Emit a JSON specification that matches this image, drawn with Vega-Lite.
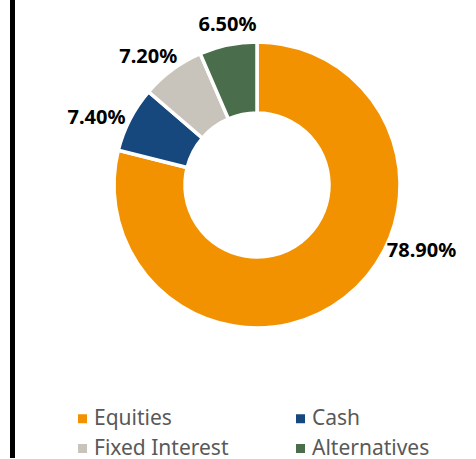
{
  "$schema": "https://vega.github.io/schema/vega-lite/v6.json",
  "width": 438,
  "height": 370,
  "padding": {"left": 38, "top": 0, "right": 0, "bottom": 89},
  "autosize": {"type": "none"},
  "background": "#ffffff",
  "config": {"view": {"stroke": null}, "font": "Noto Sans"},
  "data": {
    "values": [
      {"category": "Equities", "idx": 1, "value": 78.9, "label": "78.90%"},
      {"category": "Cash", "idx": 2, "value": 7.4, "label": "7.40%"},
      {"category": "Fixed Interest", "idx": 3, "value": 7.2, "label": "7.20%"},
      {"category": "Alternatives", "idx": 4, "value": 6.5, "label": "6.50%"}
    ]
  },
  "layer": [
    {
      "mark": {"type": "arc", "innerRadius": 72, "outerRadius": 143, "stroke": "#ffffff", "strokeWidth": 3.5},
      "encoding": {
        "theta": {"field": "value", "type": "quantitative", "stack": true},
        "order": {"field": "idx", "type": "quantitative"},
        "color": {
          "field": "category",
          "type": "nominal",
          "sort": null,
          "scale": {
            "domain": ["Equities", "Cash", "Fixed Interest", "Alternatives"],
            "range": ["#F39200", "#17487D", "#C8C3BB", "#4A6E4B"]
          },
          "legend": {
            "title": null,
            "orient": "none",
            "legendX": 34,
            "legendY": 408,
            "direction": "horizontal",
            "columns": 2,
            "columnPadding": 61,
            "rowPadding": 8,
            "padding": 0,
            "symbolType": "square",
            "symbolSize": 81,
            "symbolStrokeWidth": 0,
            "symbolOffset": 0,
            "labelOffset": 1,
            "labelFontSize": 21,
            "labelColor": "#595959",
            "labelFont": "Noto Sans",
            "labelLimit": 300
          }
        }
      }
    },
    {
      "mark": {"type": "text", "radius": 165, "dx": 63, "dy": -64, "fontSize": 20, "fontWeight": "bold", "font": "Noto Sans", "color": "#000000"},
      "encoding": {
        "theta": {"field": "value", "type": "quantitative", "stack": true},
        "order": {"field": "idx", "type": "quantitative"},
        "text": {"condition": {"test": "datum.category === 'Equities'", "field": "label"}, "value": ""}
      }
    },
    {
      "mark": {"type": "text", "radius": 165, "dx": -14, "dy": 9, "fontSize": 20, "fontWeight": "bold", "font": "Noto Sans", "color": "#000000"},
      "encoding": {
        "theta": {"field": "value", "type": "quantitative", "stack": true},
        "order": {"field": "idx", "type": "quantitative"},
        "text": {"condition": {"test": "datum.category === 'Cash'", "field": "label"}, "value": ""}
      }
    },
    {
      "mark": {"type": "text", "radius": 165, "dx": -11, "dy": 5, "fontSize": 20, "fontWeight": "bold", "font": "Noto Sans", "color": "#000000"},
      "encoding": {
        "theta": {"field": "value", "type": "quantitative", "stack": true},
        "order": {"field": "idx", "type": "quantitative"},
        "text": {"condition": {"test": "datum.category === 'Fixed Interest'", "field": "label"}, "value": ""}
      }
    },
    {
      "mark": {"type": "text", "radius": 165, "dx": 4, "dy": 2, "fontSize": 20, "fontWeight": "bold", "font": "Noto Sans", "color": "#000000"},
      "encoding": {
        "theta": {"field": "value", "type": "quantitative", "stack": true},
        "order": {"field": "idx", "type": "quantitative"},
        "text": {"condition": {"test": "datum.category === 'Alternatives'", "field": "label"}, "value": ""}
      }
    },
    {
      "data": {"values": [{"edge": "left frame", "xpos": 12.5, "ytop": 0, "ybottom": 458}]},
      "mark": {"type": "rule", "color": "#000000", "strokeWidth": 5},
      "encoding": {
        "x": {"field": "xpos", "type": "quantitative", "scale": {"domain": [38, 476], "nice": false, "zero": false}, "axis": null},
        "y": {"field": "ytop", "type": "quantitative", "scale": {"domain": [0, 370], "reverse": true, "nice": false, "zero": false}, "axis": null},
        "y2": {"field": "ybottom"}
      }
    }
  ]
}
